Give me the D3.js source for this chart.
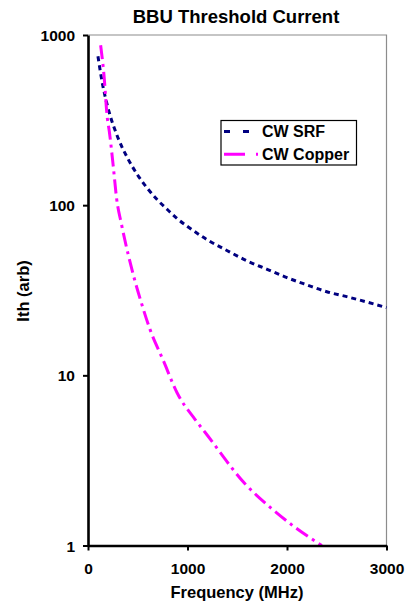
<!DOCTYPE html>
<html><head><meta charset="utf-8">
<script src="https://cdn.jsdelivr.net/npm/d3@7"></script>
<style>body{margin:0;background:#fff}svg{display:block}text{font-family:Arial,"Liberation Sans",sans-serif;font-weight:bold;fill:#000}</style>
</head><body><svg id="c" width="406" height="606"></svg>
<script>
const title = "BBU Threshold Current";
const xTitle = "Frequency (MHz)";
const yTitle = "Ith (arb)";
const xTicks = [0, 1000, 2000, 3000];
const yTicks = [1, 10, 100, 1000];
const seriesNames = ["CW SRF", "CW Copper"];
const srfFreq = [100,150,200,300,400,500,600,700,800,900,1000,1200,1400,1600,1800,2000,2200,2400,2600,2800,3000];
const srfIth  = [750,500,375,250,188,150,125,107,94,83,75,62.5,54,47,42,37.5,34,31,29,27,25];
const cuFreq = [127,160,194,214,254,287,337,405,455,532,625,755,895,1077,1180,1580,1850,2080,2350];
const cuIth  = [871,586,326,272,169,110,77,51,39,27.2,18.5,12.3,7.9,5.5,4.6,2.3,1.64,1.28,1.0];

const svg = d3.select("#c");
const x = d3.scaleLinear().domain([0,3000]).range([88,386.5]);
const y = d3.scaleLog().domain([1,1000]).range([545.5,35]);

// plot border (top/right grey)
svg.append("path").attr("d",`M${x(0)},${y(1000)}H${x(3000)}V${y(1)}`)
  .attr("fill","none").attr("stroke","#8c8c8c").attr("stroke-width",1.2);

const series = [
  {name: seriesNames[0], f: srfFreq, v: srfIth, color:"#000080", dash:"5,4", ldash:"6,13"},
  {name: seriesNames[1], f: cuFreq, v: cuIth, color:"#ff00ff", dash:"14,5,3,5", ldash:"21,11,2,40"}
];
const line = d3.line().x(d=>x(d[0])).y(d=>y(d[1])).curve(d3.curveMonotoneX);
series.forEach(s=>{
  svg.append("path").datum(s.f.map((f,i)=>[f,s.v[i]]))
    .attr("d",line).attr("fill","none").attr("stroke",s.color)
    .attr("stroke-width",3).attr("stroke-dasharray",s.dash);
});

// axes
const yAxis = svg.append("g").attr("transform",`translate(${x(0)},0)`)
  .call(d3.axisLeft(y).tickValues(yTicks).tickFormat(d3.format("d")).tickSize(5).tickSizeOuter(0));
const xAxis = svg.append("g").attr("transform",`translate(0,${y(1)})`)
  .call(d3.axisBottom(x).tickValues(xTicks).tickFormat(d3.format("d")).tickSize(5).tickSizeOuter(0));
[yAxis,xAxis].forEach(a=>{
  a.select(".domain").attr("stroke","#000").attr("stroke-width",2.6);
  a.selectAll(".tick line").attr("stroke","#000").attr("stroke-width",2);
  a.selectAll(".tick text").style("font-size","15.5px").style("font-family","Arial, 'Liberation Sans', sans-serif").style("font-weight","bold").attr("fill","#000");
});
yAxis.selectAll(".tick text").attr("x",-13).attr("dy","0.36em");
xAxis.selectAll(".tick text").attr("y",17).attr("dy","0.71em");

// titles
svg.append("text").attr("x",236).attr("y",23).attr("text-anchor","middle").style("font-size","18.5px").text(title);
svg.append("text").attr("x",237).attr("y",598).attr("text-anchor","middle").style("font-size","16.5px").text(xTitle);
svg.append("text").attr("transform","translate(29,291) rotate(-90)").attr("text-anchor","middle").style("font-size","16.5px").text(yTitle);

// legend
const lg = svg.append("g");
lg.append("rect").attr("x",221).attr("y",120.5).attr("width",135.5).attr("height",44.5)
  .attr("fill","#fff").attr("stroke","#000").attr("stroke-width",1.2);
series.forEach((s,i)=>{
  const ly = 131.5 + i*22.8;
  lg.append("line").attr("x1",224).attr("x2",258).attr("y1",ly).attr("y2",ly)
    .attr("stroke",s.color).attr("stroke-width",3).attr("stroke-dasharray",s.ldash);
  lg.append("text").attr("x",262).attr("y",ly+5.8).style("font-size","16px").text(s.name);
});
</script></body></html>
